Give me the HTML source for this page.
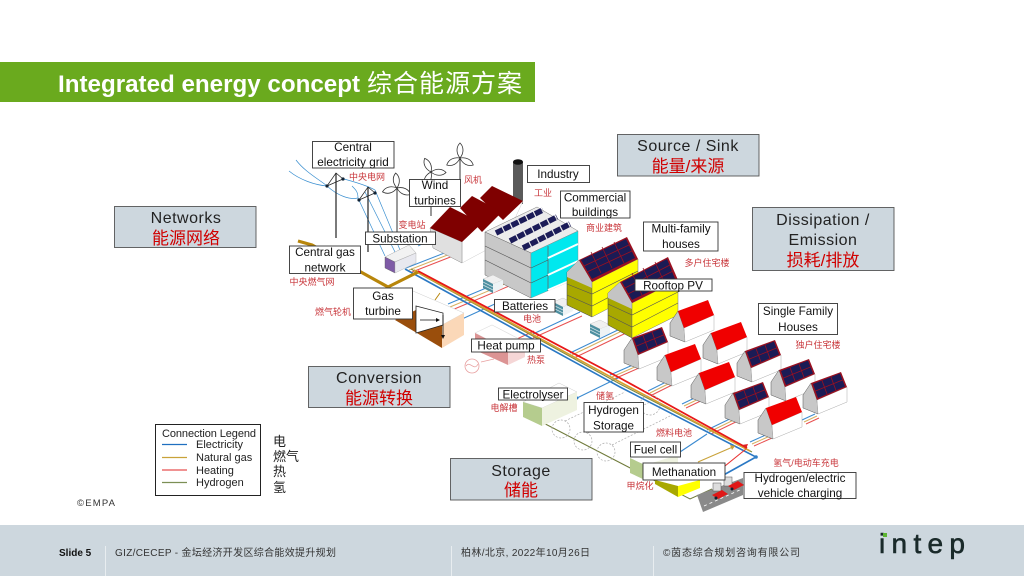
<!DOCTYPE html>
<html><head><meta charset="utf-8">
<style>
html,body{margin:0;padding:0;background:#fff;width:1024px;height:576px;overflow:hidden}
svg{display:block}
text{font-family:"Liberation Sans","Noto Sans CJK SC",sans-serif}
.lb{font-size:11.7px;fill:#111;text-anchor:middle}
.cn{font-size:9px;fill:#c8353a;text-anchor:middle}
.g{font-size:16px;fill:#222;text-anchor:middle}
.r{font-size:17px;fill:#d00000;text-anchor:middle}
.box{fill:#fff;stroke:#333;stroke-width:.9}
.gb{fill:#cdd7de;stroke:#555;stroke-width:.9}
.f{font-size:10px;fill:#333}
</style></head><body>
<svg width="1024" height="576" viewBox="0 0 1024 576" xmlns="http://www.w3.org/2000/svg">
<defs>
<g id="hr">
<polygon points="0,0 8,-12 14,5 15,19 0,13" fill="#c8c8c8" stroke="#555" stroke-width=".5"/>
<polygon points="14,5 44,-8 44,7 15,19" fill="#fff" stroke="#aaa" stroke-width=".5"/>
<polygon points="8,-12 38,-23 44,-8 14,5" fill="#f00000"/>
</g>
<g id="hp">
<polygon points="0,0 8,-12 14,5 15,19 0,13" fill="#c8c8c8" stroke="#555" stroke-width=".5"/>
<polygon points="14,5 44,-8 44,7 15,19" fill="#fff" stroke="#aaa" stroke-width=".5"/>
<polygon points="8,-12 38,-23 44,-8 14,5" fill="#9a1020"/>
<polygon points="10,-11 37,-21.500 42,-8.500 15,3" fill="#1b1b55"/>
<path d="M12.500,-4 L39.500,-15 M19,-14.500 L24,-1 M28,-18 L33,-4.500" stroke="#9a1020" stroke-width=".8" fill="none"/>
</g>
<g id="bs">
<polygon points="0,4 10,0 20,5 10,9" fill="#f0f0f0" stroke="#bbb" stroke-width=".4"/>
<polygon points="0,4 10,9 10,18 0,13" fill="#4d8fa0"/>
<polygon points="10,9 20,5 20,13 10,18" fill="#eef3f5"/>
<path d="M0,7 L10,12 M0,10 L10,15" stroke="#cfe0e5" stroke-width=".7"/>
</g>
<path id="bl" d="M0,0 C-4,-5 -4,-11 0,-15 C4,-11 4,-5 0,0Z" fill="#fff" stroke="#333" stroke-width=".8"/>
<g id="py" fill="none">
<path d="M0,0 V65" stroke="#222" stroke-width="1.2"/>
<path d="M-9,13 L0,0 L7,6 L-9,13" stroke="#222" stroke-width=".7"/>
<circle cx="-9" cy="13" r="1.6" fill="#123"/><circle cx="7" cy="6" r="1.6" fill="#123"/>
</g>
</defs>

<rect width="1024" height="576" fill="#fff"/>
<!-- header -->
<rect x="0" y="62" width="535" height="40" fill="#6aaa1e"/>
<text x="58" y="92" font-size="24" font-weight="bold" fill="#fff" textLength="302" lengthAdjust="spacingAndGlyphs">Integrated energy concept</text>
<text x="367" y="92" font-size="25" fill="#fff" textLength="155">综合能源方案</text>

<!-- branches + main pipes -->
<g fill="none" stroke-width="1">
<g stroke="#3a8ad0">
<path d="M406,268 L447,252 M448,304 L510,278 M462,319 L497,303 M533,334 L580,312 M570,353 L622,328 M610,375 L635,364 M648,391 L668,381 M682,404 L705,393 M707,430 L740,414 M750,442 L768,434 M802,420 L815,414"/>
</g>
<g stroke="#d6b060">
<path d="M409,270 L450,254 M450,307 L512,281 M572,355 L624,330 M612,377 L637,366 M650,393 L670,383 M684,406 L707,395 M709,432 L742,416 M752,444 L770,436 M804,422 L817,416"/>
</g>
<g stroke="#e85050">
<path d="M412,272 L453,256 M452,310 L514,284 M500,347 L534,331 M533,338 L582,316 M574,358 L626,333 M614,379 L639,368 M652,395 L672,385 M686,408 L709,397 M711,434 L744,418 M754,446 L772,438 M806,424 L819,418"/>
</g>
<path d="M405,269 L620,387 L756,457 L720,477" stroke="#2a78c4" stroke-width="1.6"/>
<path d="M577,398 L620,377 M680,452 L707,434" stroke="#3a8ad0" stroke-width="1.1"/>
<path d="M698,462 L735,446" stroke="#c9a23a" stroke-width="1.1"/>
<path d="M720,470 L746,449" stroke="#e83030" stroke-width="1.1"/>
<path d="M411,269 L620,384 L752,452" stroke="#7e8a3e" stroke-width="1.1"/>
<path d="M414,270 L620,382 L750,451" stroke="#d8a030" stroke-width="1.7"/>
<path d="M418,271 L620,378 L747,448" stroke="#e81818" stroke-width="1.8"/>
<path d="M298,241 L312,245 L388,287 L418,272" stroke="#b8860b" stroke-width="3.2"/>
<path d="M440,293 L435,300" stroke="#b8860b"/>
<path d="M528,415 L690,499 L712,489" stroke="#6f7a3a" stroke-width="1"/>
</g>
<g fill="#2f7fc8"><circle cx="577" cy="398" r="1.5"/><circle cx="756" cy="457" r="1.8"/><polygon points="718,473 724,473 721,479"/></g>
<polygon points="746,449 742,445 748,444" fill="#e02020"/>
<polygon points="735,446 730,445 732,450" fill="#c9a23a"/>

<!-- power lines -->
<g fill="none" stroke="#3a8fd0" stroke-width=".7">
<path d="M296,160 C305,172 320,180 327,186 C338,196 350,200 358,198"/>
<path d="M289,171 C300,180 315,185 327,186"/>
<path d="M344,179 C355,182 368,186 375,190"/>
<path d="M352,186 C356,190 358,192 358,198"/>
<path d="M358,198 L385,256 M365,192 L398,258 M375,190 L400,250"/>
<path d="M410,244 L465,218 M418,246 L470,222"/>
</g>
<use href="#py" x="336" y="173"/>
<use href="#py" x="368" y="187"/>

<!-- wind turbines -->
<g stroke="#333" stroke-width="1"><path d="M397,188 V233 M431,172 V216 M460,158 V207"/></g>
<use href="#bl" transform="translate(397,188) rotate(-5)"/>
<use href="#bl" transform="translate(397,188) rotate(115)"/>
<use href="#bl" transform="translate(397,188) rotate(-105)"/>
<use href="#bl" transform="translate(431,172) rotate(-25)"/>
<use href="#bl" transform="translate(431,172) rotate(92)"/>
<use href="#bl" transform="translate(431,172) rotate(-155)"/>
<use href="#bl" transform="translate(460,158) rotate(0)"/>
<use href="#bl" transform="translate(460,158) rotate(118)"/>
<use href="#bl" transform="translate(460,158) rotate(-118)"/>

<!-- chimney -->
<rect x="513" y="162" width="10" height="42" fill="#5a5a5a"/>
<ellipse cx="518" cy="162" rx="5" ry="2.800" fill="#111"/>

<!-- factory -->
<polygon points="462,242 462,263 505,240 523,201 490,200" fill="#fff" stroke="#ccc" stroke-width=".5"/>
<polygon points="430,228 462,242 462,263 433,248" fill="#e0e0e0" stroke="#888" stroke-width=".5"/>
<polygon points="492,186 523,201 503,220 480,198" fill="#7f0000"/>
<polygon points="472,196 502,212 482,232 460,208" fill="#7f0000"/>
<polygon points="450,207 482,223 462,242 430,228" fill="#7f0000"/>

<!-- commercial building -->
<polygon points="485,232 537,207 578,231 531,253" fill="#ececec" stroke="#777" stroke-width=".5"/>
<polygon points="485,232 531,253 531,298 485,275" fill="#c8c8c8" stroke="#666" stroke-width=".5"/>
<path d="M485,246 L531,268 M485,260 L531,283" stroke="#555" stroke-width=".6"/>
<polygon points="531,253 578,231 578,278 531,298" fill="#00e8ee" stroke="#888" stroke-width=".4"/>
<path d="M548,246 V291" stroke="#666" stroke-width=".8"/>
<path d="M531,268 L548,260 M531,283 L548,275" stroke="#555" stroke-width=".6"/>
<path d="M548,258 L578,244 M548,275 L578,261 M548,290 L578,277" stroke="#fff" stroke-width="2"/>
<g stroke="#1c1c58" stroke-width="5.500" stroke-dasharray="7.500 1.200" fill="none">
<path d="M496,233 L543,210"/><path d="M510,241 L557,217"/><path d="M523,248 L570,224"/>
</g>

<!-- stacks -->
<use href="#bs" x="483" y="275"/>
<use href="#bs" x="553" y="298"/>
<use href="#bs" x="590" y="320"/>

<!-- yellow building 1 -->
<polygon points="567,272 579,260 592,282 592,317 567,305" fill="#a8a800" stroke="#444" stroke-width=".5"/>
<polygon points="567,272 579,260 592,282 592,288 567,277" fill="#c4c4c4"/>
<polygon points="592,282 638,259 638,293 592,317" fill="#ffff00" stroke="#777" stroke-width=".5"/>
<path d="M567,284 L592,294 L638,271 M567,295 L592,306 L638,282" stroke="#555" stroke-width=".6" fill="none"/>
<polygon points="579,260 627,237 638,259 592,282" fill="#9a1020"/>
<polygon points="581,260 626,239 635,258 592,279" fill="#1b1b55"/>
<path d="M584,266 L629,245 M587,272 L632,251 M591,252 L601,273 M602,247 L612,268 M614,242 L624,263" stroke="#9a1020" stroke-width=".8"/>
<!-- yellow building 2 -->
<polygon points="608,293 620,282 632,303 632,338 608,325" fill="#a8a800" stroke="#444" stroke-width=".5"/>
<polygon points="608,293 620,282 632,303 632,309 608,298" fill="#c4c4c4"/>
<polygon points="632,303 678,280 678,315 632,338" fill="#ffff00" stroke="#777" stroke-width=".5"/>
<path d="M608,304 L632,315 L678,292 M608,315 L632,327 L678,303" stroke="#555" stroke-width=".6" fill="none"/>
<polygon points="620,282 668,257 678,280 632,303" fill="#9a1020"/>
<polygon points="622,282 667,259 675,279 632,300" fill="#1b1b55"/>
<path d="M625,288 L670,265 M628,294 L673,271 M632,273 L642,295 M643,268 L653,290 M655,262 L665,284" stroke="#9a1020" stroke-width=".8"/>

<!-- houses -->
<use href="#hp" x="624" y="350"/>
<use href="#hr" x="670" y="323"/>
<use href="#hr" x="703" y="345"/>
<use href="#hr" x="657" y="367"/>
<use href="#hp" x="737" y="363"/>
<use href="#hr" x="691" y="385"/>
<use href="#hp" x="771" y="382"/>
<use href="#hp" x="725" y="405"/>
<use href="#hp" x="803" y="395"/>
<use href="#hr" x="758" y="420"/>

<!-- substation -->
<polygon points="385,257 409,245 416,253 392,263" fill="#f2f2f2" stroke="#aaa" stroke-width=".5"/>
<polygon points="385,257 395,262 395,273 385,268" fill="#7e5aa6" stroke="#555" stroke-width=".4"/>
<polygon points="395,262 416,253 416,263 395,273" fill="#e8e8ef" stroke="#aaa" stroke-width=".4"/>

<!-- gas turbine -->
<polygon points="413,291 464,313 442,325 395,312" fill="#fff" stroke="#ccc" stroke-width=".5"/>
<polygon points="395,320 416,310 442,322 442,348" fill="#9a4e0c"/>
<polygon points="442,325 464,313 464,335 442,348" fill="#fbd8b8"/>
<polygon points="416,306 443,313 443,325 416,333" fill="#fff" stroke="#222" stroke-width=".8"/>
<path d="M420,320 H438 M443,315 V338" stroke="#111" stroke-width=".8"/>
<polygon points="440,320 436,318 436,322" fill="#111"/>
<polygon points="443,339 441,335 445,335" fill="#111"/>

<!-- heat pump -->
<polygon points="475,333 492,325 525,342 508,350" fill="#fff" stroke="#ddd" stroke-width=".6"/>
<polygon points="475,333 508,350 508,365 475,350" fill="#dc9494"/>
<polygon points="508,350 525,342 525,357 508,365" fill="#f5d6d6"/>
<circle cx="472" cy="366" r="7" fill="none" stroke="#e8a0a0" stroke-width=".8"/>
<path d="M466,366 C470,360 474,372 478,364 M481,362 L494,359" fill="none" stroke="#e8a0a0" stroke-width=".8"/>

<!-- electrolyser + tanks -->
<polygon points="523,402 559,383 577,392 542,408" fill="#fff" stroke="#ccc" stroke-width=".5"/>
<polygon points="523,402 542,408 542,426 523,417" fill="#b5cc8e"/>
<polygon points="542,408 577,392 577,410 542,426" fill="#eef2e0"/>
<g fill="none" stroke="#aaa" stroke-width=".7" stroke-dasharray="2 1.500">
<circle cx="561" cy="429" r="9"/><circle cx="583" cy="441" r="9"/><circle cx="606" cy="452" r="9"/>
<path d="M565,421 L625,392 M588,433 L650,402 M612,445 L672,415"/>
<circle cx="650" cy="405" r="10"/>
</g>

<!-- fuel cell / methanation -->
<polygon points="630,458 645,465 645,480 630,473" fill="#b5cc8e"/>
<polygon points="645,465 678,455 678,468 645,480" fill="#eef2e0"/>
<polygon points="655,480 678,486 678,497 655,484" fill="#a8a800"/>
<polygon points="678,486 700,480 700,488 678,497" fill="#ffff00"/>

<!-- charging -->
<polygon points="697,495 743,478 743,495 703,512" fill="#8a8a8a"/>
<path d="M704,506 L742,489" stroke="#fff" stroke-width=".8" stroke-dasharray="3 3"/>
<rect x="713" y="483" width="8" height="8" fill="#ddd" stroke="#555" stroke-width=".5"/>
<rect x="724" y="477" width="8" height="9" fill="#ddd" stroke="#555" stroke-width=".5"/>
<polygon points="712,495 722,490 728,494 718,499" fill="#e01818"/>
<polygon points="728,486 738,481 744,485 734,490" fill="#e01818"/>
<circle cx="716" cy="498" r="1.500" fill="#123"/><circle cx="732" cy="489" r="1.500" fill="#123"/>

<!-- label boxes -->
<g>
<rect class="box" x="312.500" y="141.500" width="81.500" height="26.500"/>
<text class="lb" x="353" y="151">Central</text><text class="lb" x="353" y="166">electricity grid</text>
<rect class="box" x="409.500" y="179.500" width="51" height="27"/>
<text class="lb" x="435" y="189">Wind</text><text class="lb" x="435" y="204.500">turbines</text>
<rect class="box" x="527.500" y="165.500" width="62" height="17"/>
<text class="lb" x="558" y="178">Industry</text>
<rect class="box" x="560.500" y="191" width="69.500" height="27"/>
<text class="lb" x="595" y="201.500">Commercial</text><text class="lb" x="595" y="216">buildings</text>
<rect class="box" x="643.500" y="222" width="74.500" height="29"/>
<text class="lb" x="681" y="232.500">Multi-family</text><text class="lb" x="681" y="248">houses</text>
<rect class="box" x="635" y="279" width="77" height="12"/>
<text class="lb" x="673" y="289.500">Rooftop PV</text>
<rect class="box" x="758.500" y="303.500" width="79" height="31"/>
<text class="lb" x="798" y="315">Single Family</text><text class="lb" x="798" y="331">Houses</text>
<rect class="box" x="365.500" y="232" width="70" height="12.500"/>
<text class="lb" x="400" y="242.500">Substation</text>
<rect class="box" x="289.500" y="246" width="71" height="27.500"/>
<text class="lb" x="325" y="256">Central gas</text><text class="lb" x="325" y="271.500">network</text>
<rect class="box" x="353.500" y="288" width="59" height="31"/>
<text class="lb" x="383" y="300">Gas</text><text class="lb" x="383" y="315">turbine</text>
<rect class="box" x="494.500" y="299.500" width="60.500" height="12.500"/>
<text class="lb" x="525" y="310">Batteries</text>
<rect class="box" x="471.500" y="339" width="69" height="13"/>
<text class="lb" x="506" y="349.500">Heat pump</text>
<rect class="box" x="498.500" y="388" width="69" height="12"/>
<text class="lb" x="533" y="398.500">Electrolyser</text>
<rect class="box" x="584" y="402.500" width="59.500" height="29.500"/>
<text class="lb" x="613.500" y="414">Hydrogen</text><text class="lb" x="613.500" y="429.500">Storage</text>
<rect class="box" x="630.500" y="442" width="50" height="15"/>
<text class="lb" x="655.500" y="453.500">Fuel cell</text>
<rect class="box" x="643" y="463" width="82" height="17"/>
<text class="lb" x="684" y="476">Methanation</text>
<rect class="box" x="744" y="472.500" width="112" height="26"/>
<text class="lb" x="800" y="482">Hydrogen/electric</text><text class="lb" x="800" y="497">vehicle charging</text>
</g>

<!-- red cn labels -->
<text class="cn" x="367" y="180">中央电网</text>
<text class="cn" x="473" y="183">风机</text>
<text class="cn" x="543" y="196">工业</text>
<text class="cn" x="412" y="228">变电站</text>
<text class="cn" x="312" y="285">中央燃气网</text>
<text class="cn" x="333" y="315">燃气轮机</text>
<text class="cn" x="532" y="322">电池</text>
<text class="cn" x="536" y="363">热泵</text>
<text class="cn" x="504" y="411">电解槽</text>
<text class="cn" x="605" y="399">储氢</text>
<text class="cn" x="674" y="436">燃料电池</text>
<text class="cn" x="640" y="489">甲烷化</text>
<text class="cn" x="806" y="466">氢气/电动车充电</text>
<text class="cn" x="818" y="348">独户住宅楼</text>
<text class="cn" x="707" y="266">多户住宅楼</text>
<text class="cn" x="604" y="231">商业建筑</text>

<!-- grey boxes -->
<rect class="gb" x="617.500" y="134.500" width="141.500" height="41.500"/>
<text class="g" x="688" y="151" letter-spacing=".5">Source / Sink</text><text class="r" x="688" y="172">能量/来源</text>
<rect class="gb" x="114.500" y="206.500" width="141.500" height="41"/>
<text class="g" x="186" y="223" letter-spacing=".5">Networks</text><text class="r" x="186" y="244">能源网络</text>
<rect class="gb" x="752.500" y="207.500" width="141.500" height="63"/>
<text class="g" x="823" y="225" letter-spacing=".5">Dissipation /</text><text class="g" x="823" y="245" letter-spacing=".5">Emission</text><text class="r" x="823" y="266">损耗/排放</text>
<rect class="gb" x="308.500" y="366.500" width="141.500" height="41"/>
<text class="g" x="379" y="383" letter-spacing=".5">Conversion</text><text class="r" x="379" y="404">能源转换</text>
<rect class="gb" x="450.500" y="458.500" width="141.500" height="41.500"/>
<text class="g" x="521" y="476" letter-spacing=".5">Storage</text><text class="r" x="521" y="496">储能</text>

<!-- legend -->
<rect x="155.500" y="424.500" width="105" height="71" fill="#fff" stroke="#222" stroke-width="1"/>
<text x="162" y="437" font-size="11" fill="#222" textLength="94">Connection Legend</text>
<g font-size="11" fill="#222">
<text x="196" y="448">Electricity</text>
<text x="196" y="461">Natural gas</text>
<text x="196" y="474">Heating</text>
<text x="196" y="486">Hydrogen</text>
</g>
<path d="M162,444.500 H187" stroke="#1f6fc0" stroke-width="1.200"/>
<path d="M162,457.500 H187" stroke="#c9a23a" stroke-width="1.200"/>
<path d="M162,470 H187" stroke="#e85050" stroke-width="1.200"/>
<path d="M162,482.500 H187" stroke="#7c8f55" stroke-width="1.200"/>
<g font-size="13" fill="#222">
<text x="273" y="446">电</text><text x="273" y="461">燃气</text><text x="273" y="476">热</text><text x="273" y="492">氢</text>
</g>
<text x="77" y="506" font-size="9.500" fill="#333" textLength="38">©EMPA</text>

<!-- footer -->
<rect x="0" y="525" width="1024" height="51" fill="#cdd7de"/>
<path d="M105.500,546 V576 M451.500,546 V576 M653.500,546 V576" stroke="#e8edf0" stroke-width="1"/>
<text x="59" y="556" font-size="10" font-weight="bold" fill="#111">Slide 5</text>
<text class="f" x="115" y="556" textLength="221">GIZ/CECEP - 金坛经济开发区综合能效提升规划</text>
<text class="f" x="461" y="556" textLength="129">柏林/北京, 2022年10月26日</text>
<text class="f" x="663" y="556" textLength="137">©茵态综合规划咨询有限公司</text>
<text x="879" y="553" font-size="28" fill="#1a2a2a" stroke="#1a2a2a" stroke-width=".6" textLength="86">intep</text>
<rect x="883" y="533" width="4" height="4" fill="#5cb531"/>
</svg>
</body></html>
